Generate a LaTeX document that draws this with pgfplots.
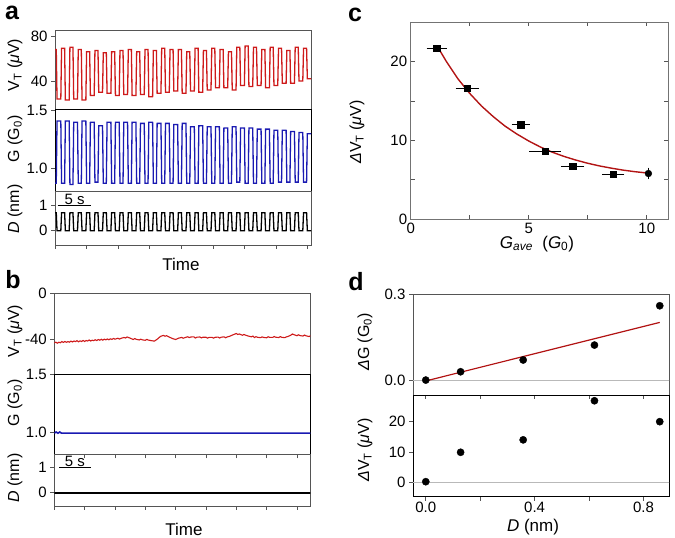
\documentclass[border=0pt]{standalone}
\usepackage{fontspec}
\setmainfont{Liberation Sans}
\usepackage{pgfplots}
\usepackage{pgfplotstable}
\pgfplotsset{compat=1.18}

\definecolor{vtred}{RGB}{206,26,26}
\definecolor{gblue}{RGB}{26,26,178}
\definecolor{fitred}{RGB}{178,20,20}
\definecolor{frame}{RGB}{85,85,85}

% panel a: time traces (t in s)
\pgfplotstableread{
t vt g d
-0.40 24 1.41 0
-0.28 68 0.87 0.72
0.20 68 0.87 0.72
0.32 24 1.41 0
0.92 24 1.41 0
1.04 69 0.87 0.72
1.52 69 0.87 0.72
1.64 23 1.41 0
2.24 23 1.41 0
2.36 70 0.86 0.72
2.84 70 0.86 0.72
2.96 24 1.40 0
3.56 24 1.40 0
3.68 68 0.87 0.72
4.16 68 0.87 0.72
4.28 23 1.41 0
4.88 23 1.41 0
5.00 66 0.87 0.72
5.48 66 0.87 0.72
5.60 27 1.40 0
6.20 27 1.40 0
6.32 67 0.88 0.72
6.80 67 0.88 0.72
6.92 30 1.37 0
7.52 30 1.37 0
7.64 65 0.87 0.72
8.12 65 0.87 0.72
8.24 29 1.40 0
8.84 29 1.40 0
8.96 66 0.87 0.72
9.44 66 0.87 0.72
9.56 27 1.40 0
10.16 27 1.40 0
10.28 67 0.87 0.72
10.76 67 0.87 0.72
10.88 28 1.40 0
11.48 28 1.40 0
11.60 68 0.87 0.72
12.08 68 0.87 0.72
12.20 27 1.40 0
12.80 27 1.40 0
12.92 66 0.87 0.72
13.40 66 0.87 0.72
13.52 28 1.39 0
14.12 28 1.39 0
14.24 68 0.87 0.72
14.72 68 0.87 0.72
14.84 26 1.40 0
15.44 26 1.40 0
15.56 67 0.87 0.72
16.04 67 0.87 0.72
16.16 29 1.39 0
16.76 29 1.39 0
16.88 69 0.87 0.72
17.36 69 0.87 0.72
17.48 30 1.39 0
18.08 30 1.39 0
18.20 68 0.87 0.72
18.68 68 0.87 0.72
18.80 31 1.38 0
19.40 31 1.38 0
19.52 68 0.87 0.72
20.00 68 0.87 0.72
20.12 29 1.39 0
20.72 29 1.39 0
20.84 66 0.87 0.72
21.32 66 0.87 0.72
21.44 31 1.36 0
22.04 31 1.36 0
22.16 69 0.87 0.72
22.64 69 0.87 0.72
22.76 30 1.37 0
23.36 30 1.37 0
23.48 67 0.87 0.72
23.96 67 0.87 0.72
24.08 32 1.36 0
24.68 32 1.36 0
24.80 69 0.87 0.72
25.28 69 0.87 0.72
25.40 34 1.36 0
26.00 34 1.36 0
26.12 68 0.87 0.72
26.60 68 0.87 0.72
26.72 34 1.35 0
27.32 34 1.35 0
27.44 66 0.87 0.72
27.92 66 0.87 0.72
28.04 32 1.36 0
28.64 32 1.36 0
28.76 70 0.88 0.72
29.24 70 0.88 0.72
29.36 36 1.35 0
29.96 36 1.35 0
30.08 71 0.87 0.72
30.56 71 0.87 0.72
30.68 35 1.35 0
31.28 35 1.35 0
31.40 70 0.87 0.72
31.88 70 0.87 0.72
32.00 36 1.34 0
32.60 36 1.34 0
32.72 68 0.87 0.72
33.20 68 0.87 0.72
33.32 34 1.34 0
33.92 34 1.34 0
34.04 70 0.87 0.72
34.52 70 0.87 0.72
34.64 36 1.33 0
35.24 36 1.33 0
35.36 69 0.88 0.72
35.84 69 0.88 0.72
35.96 38 1.33 0
36.56 38 1.33 0
36.68 67 0.88 0.72
37.16 67 0.88 0.72
37.28 38 1.32 0
37.88 38 1.32 0
38.00 70 0.88 0.72
38.48 70 0.88 0.72
38.60 40 1.31 0
39.20 40 1.31 0
39.32 69 0.88 0.72
39.80 69 0.88 0.72
39.92 42 1.30 0
40.60 42 1.30 0
}\traceA

% panel b: V_T without modulation
\pgfplotstableread{
t vt
0.0 -43.2
0.25 -42.5
0.5 -43.4
0.75 -42.6
1.0 -43.0
1.25 -42.0
1.5 -42.7
1.75 -41.9
2.0 -42.6
2.25 -42.0
2.5 -42.5
2.75 -41.6
3.0 -42.3
3.25 -41.5
3.5 -42.0
3.75 -41.2
4.0 -42.2
4.25 -41.4
4.5 -41.9
4.75 -41.0
5.0 -41.9
5.25 -41.1
5.5 -41.5
5.75 -40.6
6.0 -41.5
6.25 -40.8
6.5 -41.2
6.75 -40.4
7.0 -41.1
7.25 -40.2
7.5 -40.8
7.75 -40.0
8.0 -40.8
8.25 -39.9
8.5 -40.5
8.75 -39.7
9.0 -40.4
9.25 -39.6
9.5 -40.1
9.75 -39.3
10.0 -39.9
10.5 -39.1
10.75 -39.8
11.0 -39.2
11.5 -38.4
11.75 -38.9
12.0 -38.0
12.5 -39.0
13.0 -40.2
13.25 -39.4
13.5 -40.0
14.0 -40.6
14.25 -39.9
14.5 -40.5
15.0 -40.9
15.25 -40.1
15.5 -40.7
16.0 -41.2
16.5 -41.6
17.0 -39.8
17.5 -37.5
18.0 -36.6
18.25 -37.3
18.5 -36.9
19.0 -38.2
19.5 -39.4
20.0 -40.2
20.5 -39.0
21.0 -38.4
21.25 -39.1
21.5 -38.6
22.0 -37.8
22.25 -38.5
22.5 -38.0
23.0 -37.9
23.25 -38.9
23.5 -38.2
24.0 -38.0
24.25 -38.8
24.5 -38.2
25.0 -38.2
25.25 -39.0
25.5 -38.4
26.0 -38.3
26.25 -39.0
26.5 -38.3
27.0 -38.1
27.25 -38.9
27.5 -38.2
28.0 -37.9
28.25 -38.7
28.5 -38.0
29.0 -37.2
29.5 -36.0
30.0 -35.0
30.25 -35.8
30.5 -35.4
31.0 -36.5
31.25 -35.8
31.5 -36.4
32.0 -37.2
32.5 -37.9
32.75 -37.2
33.0 -38.5
33.25 -37.7
33.5 -38.3
34.0 -38.6
34.25 -37.9
34.5 -38.4
35.0 -38.7
35.25 -37.8
35.5 -38.3
36.0 -38.4
36.25 -37.6
36.5 -38.2
37.0 -38.5
37.25 -37.7
37.5 -38.3
38.0 -38.6
38.25 -37.9
38.5 -37.6
39.0 -36.4
39.25 -35.4
39.5 -36.0
40.0 -36.9
40.25 -36.1
40.5 -36.8
41.0 -37.2
41.25 -36.3
41.5 -37.0
42.0 -37.6
42.3 -36.8
}\traceBvt

% panel c
\pgfplotstableread{
x y ex ey
1.10 21.7 0.30 0
2.40 16.6 0.37 0
4.66 12.0 0.26 0
5.69 8.6 0.54 0
6.86 6.7 0.37 0
8.58 5.7 0.34 0
}\dataC

\pgfplotstableread{
x y
1.15 21.81
1.5 20.05
2.0 17.80
2.5 15.95
3.0 14.35
3.5 13.00
4.0 11.80
4.5 10.80
5.0 9.92
5.5 9.15
6.0 8.50
6.5 7.96
7.0 7.50
7.5 7.10
8.0 6.76
8.5 6.48
9.0 6.23
9.5 6.03
10.1 5.84
}\fitC

% panel d
\pgfplotstableread{
D dG dVT
0 0.0 0.2
0.128 0.029 9.9
0.358 0.070 14.0
0.62 0.122 26.9
0.86 0.259 20.0
}\dataD

\pgfplotsset{
  base/.style={
    scale only axis, anchor=south west,
    axis line style={frame, line width=0.8pt},
    tick style={frame, line width=0.7pt},
    major tick length=4pt,
    tick label style={font=\fontsize{15}{15}\selectfont},
    /pgf/number format/assume math mode=true,
  },
  trace/.style={
    base, width=256pt,
    tick align=outside, xtick pos=bottom, ytick pos=left,
    xtick={0,5,...,40}, xticklabels={},
  },
}

\begin{document}
\begin{tikzpicture}
\useasboundingbox (0,0) rectangle (675pt,538pt);

% ---------- a ----------
\begin{axis}[trace, at={(55pt,428.7pt)}, height=79.3pt,
  xmin=0, xmax=40.5, ymin=14.8, ymax=85.3, ytick={40,80}, xtick=\empty]
\addplot[vtred, line width=1.3pt] table[x=t,y=vt] {\traceA};
\end{axis}
\begin{axis}[trace, at={(55pt,346.3pt)}, height=82.4pt,
  xmin=0, xmax=40.5, ymin=0.797, ymax=1.512, ytick={1.0,1.5}, xtick=\empty,
  axis line style={black, line width=0.8pt},
  yticklabel style={/pgf/number format/.cd, fixed, fixed zerofill, precision=1}]
\addplot[gblue, line width=1.3pt] table[x=t,y=g] {\traceA};
\end{axis}
\begin{axis}[trace, at={(55pt,293pt)}, height=53.3pt,
  xmin=0, xmax=40.5, ymin=-0.57, ymax=1.56, ytick={0,1}]
\addplot[black, line width=1.3pt] table[x=t,y=d] {\traceA};
\draw[black, line width=0.7pt] (axis cs:0.43,1) -- (axis cs:5.74,1);
\node[font=\fontsize{15}{15}\selectfont, anchor=south, inner sep=1pt] at (axis cs:3.1,1) {5 s};
\end{axis}

% ---------- b ----------
\begin{axis}[trace, at={(54.3pt,164pt)}, height=80.7pt,
  xmin=0, xmax=42.2, ymin=-70.2, ymax=0, ytick={-40,0}, xtick=\empty]
\addplot[vtred, line width=1.1pt] table[x=t,y=vt] {\traceBvt};
\end{axis}
\begin{axis}[trace, at={(54.3pt,83.7pt)}, height=80.3pt,
  xmin=0, xmax=42.2, ymin=0.808, ymax=1.5, ytick={1.0,1.5},
  axis line style={black, line width=0.8pt},
  yticklabel style={/pgf/number format/.cd, fixed, fixed zerofill, precision=1}]
\addplot[gblue, line width=1.6pt] coordinates {(0,0.99) (0.3,1.0) (0.6,0.99) (0.9,1.0) (1.2,0.99) (42.3,0.99)};
\end{axis}
\begin{axis}[trace, at={(54.3pt,32pt)}, height=51.7pt,
  xmin=0, xmax=42.2, ymin=-0.53, ymax=1.536, ytick={0,1}]
\addplot[black, line width=2.4pt] coordinates {(0,0) (42.3,0)};
\draw[black, line width=0.7pt] (axis cs:0.78,1) -- (axis cs:6.08,1);
\node[font=\fontsize{15}{15}\selectfont, anchor=south, inner sep=1pt] at (axis cs:3.4,1) {5 s};
\end{axis}

% ---------- c ----------
\begin{axis}[base, at={(410.7pt,318.7pt)}, width=257.3pt, height=197.3pt,
  axis line style={black!55, line width=0.8pt},
  tick align=inside, xtick pos=both, ytick pos=both,
  xmin=0, xmax=10.9, ymin=0, ymax=25,
  xtick={0,5,10}, minor xtick={2.5,7.5}, ytick={0,10,20}, minor ytick={5,15},
  minor tick length=4pt]
\addplot[fitred, line width=1.4pt] table[x=x,y=y] {\fitC};
\addplot[only marks, mark=square*, mark size=3.2pt, black,
  error bars/.cd, x dir=both, x explicit,
  error bar style={line width=0.9pt}, error mark options={mark size=3pt, line width=0.9pt}]
  table[x=x, y=y, x error=ex] {\dataC};
\addplot[only marks, mark=*, mark size=3.4pt, black,
  error bars/.cd, y dir=both, y explicit,
  error bar style={line width=0.9pt}, error mark options={mark size=2pt, line width=0.9pt}]
  coordinates {(10.07,5.8) +- (0,0.5)};
\end{axis}

% ---------- d ----------
\begin{axis}[base, at={(413pt,143pt)}, width=256pt, height=101pt,
  tick align=outside, xtick pos=bottom, ytick pos=left,
  xmin=-0.047, xmax=0.894, ymin=-0.052, ymax=0.3,
  xtick={0,0.2,...,0.8}, xticklabels={}, ytick={0,0.3},
  yticklabel style={/pgf/number format/.cd, fixed, fixed zerofill, precision=1}]
\addplot[gray!55, line width=0.9pt] coordinates {(-0.05,0) (0.9,0)};
\addplot[fitred, line width=1.2pt] coordinates {(0,-0.003) (0.86,0.201)};
\addplot[only marks, mark=*, mark size=3.6pt, black] table[x=D, y=dG] {\dataD};
\end{axis}
\begin{axis}[base, at={(413pt,41.3pt)}, width=256pt, height=101.7pt,
  tick align=outside, xtick pos=bottom, ytick pos=left,
  axis line style={black, line width=0.8pt},
  xmin=-0.047, xmax=0.894, ymin=-4.75, ymax=28.8,
  xtick={0,0.4,0.8}, minor xtick={0.2,0.6}, minor tick length=4pt, ytick={0,10,20},
  xticklabel style={yshift=2pt, /pgf/number format/.cd, fixed, fixed zerofill, precision=1}]
\addplot[gray!55, line width=0.9pt] coordinates {(-0.05,0) (0.9,0)};
\addplot[only marks, mark=*, mark size=3.6pt, black] table[x=D, y=dVT] {\dataD};
\end{axis}

% ---------- labels ----------
\begin{scope}[every node/.style={font=\fontsize{16}{16}\selectfont, inner sep=0pt}]
\node[rotate=90] at (15pt,473pt) {V\textsubscript{T} (\textit{μ}V)};
\node[rotate=90] at (15pt,399pt) {G (G\textsubscript{0})};
\node[rotate=90] at (15pt,329pt) {\textit{D} (nm)};
\node[font=\fontsize{17}{17}\selectfont] at (181pt,274pt) {Time};

\node[rotate=90] at (15pt,207pt) {V\textsubscript{T} (\textit{μ}V)};
\node[rotate=90] at (15pt,135pt) {G (G\textsubscript{0})};
\node[rotate=90] at (15pt,60pt) {\textit{D} (nm)};
\node[font=\fontsize{17}{17}\selectfont] at (184pt,9pt) {Time};

\node[rotate=90] at (357pt,406pt) {\textit{Δ}V\textsubscript{T} (\textit{μ}V)};
\node[font=\fontsize{17}{17}\selectfont] at (537pt,294pt) {\textit{G}\textsubscript{\textit{ave}}\ \ (\textit{G}\textsubscript{0})};

\node[rotate=90] at (365pt,196pt) {\textit{Δ}G (G\textsubscript{0})};
\node[rotate=90] at (365pt,88pt) {\textit{Δ}V\textsubscript{T} (\textit{μ}V)};
\node[font=\fontsize{17}{17}\selectfont] at (533pt,11pt) {\textit{D} (nm)};
\end{scope}

\begin{scope}[every node/.style={font=\fontsize{25}{25}\selectfont\bfseries, inner sep=0pt}]
\node at (12pt,525pt) {a};
\node at (13pt,258pt) {b};
\node at (355pt,523pt) {c};
\node at (356pt,256pt) {d};
\end{scope}
\end{tikzpicture}
\end{document}
